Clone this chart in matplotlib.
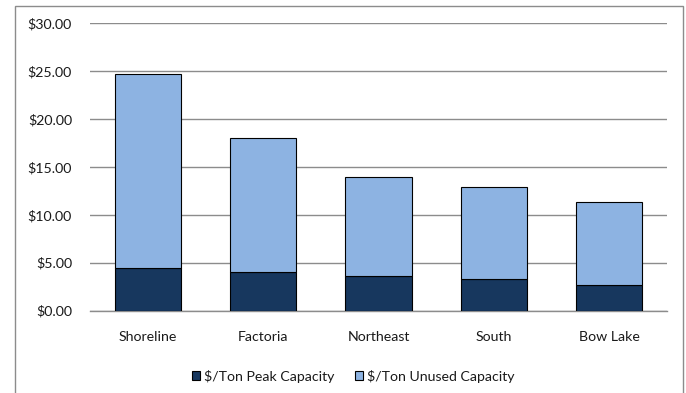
import matplotlib.pyplot as plt
import matplotlib.patches as mpatches
import numpy as np

stations = ["Shoreline", "Factoria", "Northeast", "South", "Bow Lake"]
peak = [4.41, 4.03, 3.64, 3.26, 2.67]
unused = [20.33, 13.98, 10.29, 9.69, 8.65]
yticks = [0, 5, 10, 15, 20, 25, 30]

plt.rcParams['font.family'] = ['Lato', 'DejaVu Sans']

fig = plt.figure(figsize=(6.86, 3.93), dpi=100)
ax = fig.add_axes([0.1312, 0.2099, 0.8411, 0.7308])

# chart frame (open at the bottom)
frame = mpatches.Rectangle((15 / 686, -0.1), (683 - 15) / 686, 1.1 - 6 / 393,
                           transform=fig.transFigure, fill=False,
                           edgecolor="#8c8c8c", linewidth=1.0)
fig.patches.append(frame)

x = np.arange(len(stations))
ax.bar(x, peak, width=0.575, color="#17375e", edgecolor="black", linewidth=0.8,
       label="$/Ton Peak Capacity", zorder=3)
ax.bar(x, unused, width=0.575, bottom=peak, color="#8db3e2", edgecolor="black",
       linewidth=0.8, label="$/Ton Unused Capacity", zorder=3)

ax.set_xlim(-0.5, len(stations) - 0.5)
ax.set_ylim(0, 30)
ax.set_yticks(yticks)
ax.set_yticklabels([f"${v:.2f}" for v in yticks])
ax.set_xticks(x)
ax.set_xticklabels(stations)
ax.tick_params(axis="both", length=0, labelsize=10.2, colors="#1a1a1a")
ax.tick_params(axis="y", pad=13)
ax.tick_params(axis="x", pad=15)
ax.yaxis.grid(True, color="#8c8c8c", linewidth=1.0, zorder=0)
for s in ["top", "right", "left"]:
    ax.spines[s].set_visible(False)
ax.spines["bottom"].set_color("#8c8c8c")
ax.spines["bottom"].set_linewidth(1.0)

leg = fig.legend(loc="center", bbox_to_anchor=(0.515, 0.043), ncol=2,
                 frameon=False, fontsize=10.2, handlelength=0.55,
                 handleheight=0.55, handletextpad=0.25, columnspacing=1.5)
for t in leg.get_texts():
    t.set_color("#1a1a1a")

fig.savefig("out.png", dpi=100)
